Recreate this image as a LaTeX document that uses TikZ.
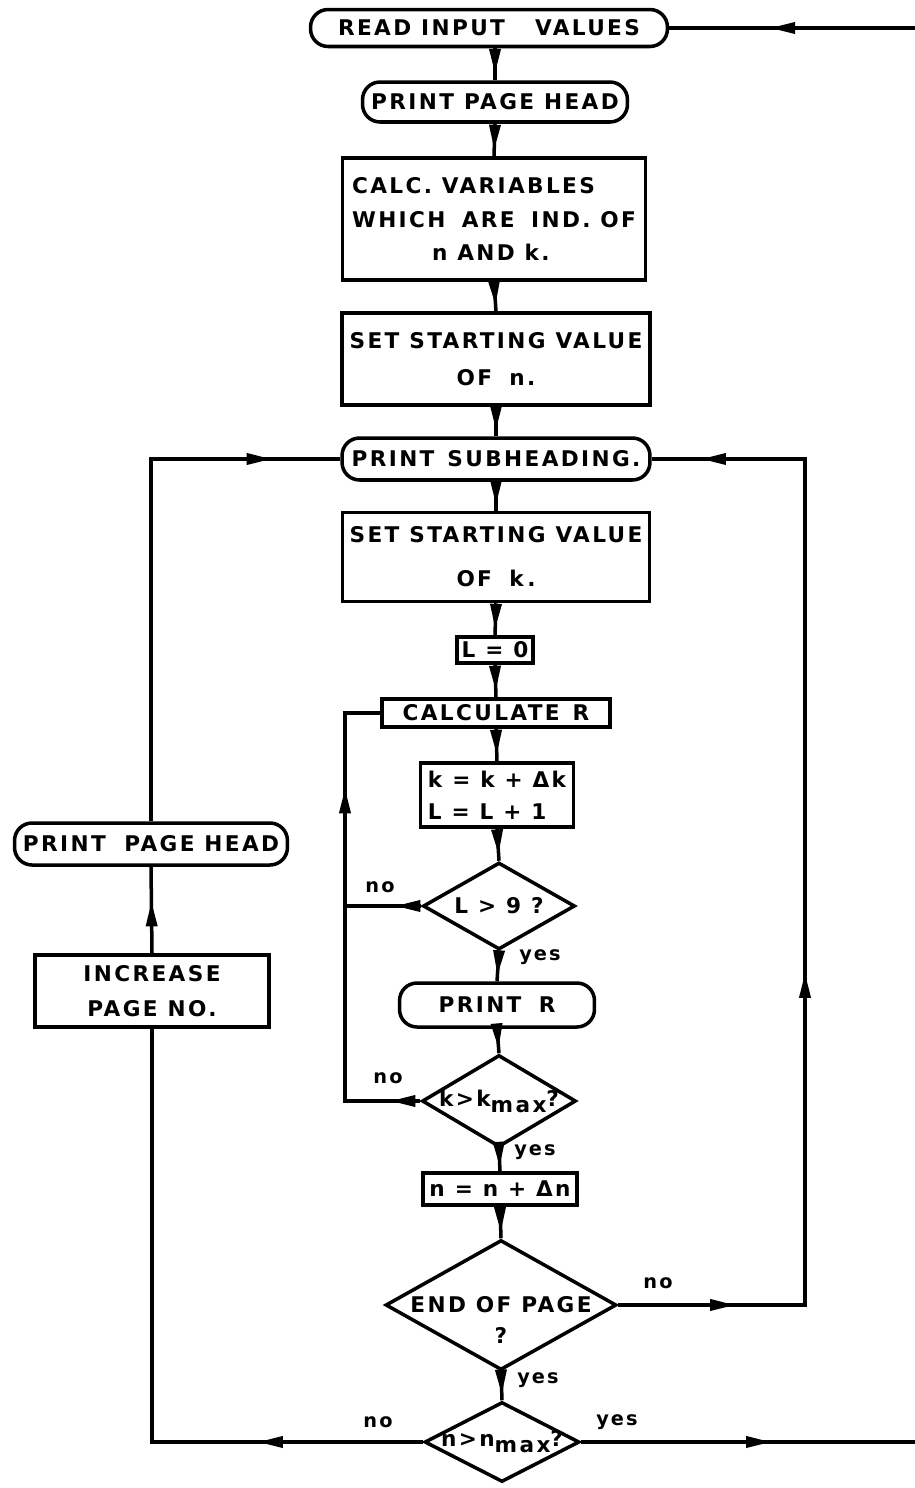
\documentclass[tikz,border=0pt]{standalone}
\usepackage{fontspec}
\newfontfamily\letterfont{DejaVu Sans}[LetterSpace=11]
\usetikzlibrary{arrows.meta,positioning,shapes.geometric,decorations.markings}
\tikzset{
  flowtip/.tip  = {Triangle[length=5mm,width=2.2mm]},
  lettering/.style = {font=\letterfont\bfseries\fontsize{12.3}{15}\selectfont},
  procbox/.style = {draw, line width=2pt, lettering, align=center, inner sep=2pt},
  termbox/.style = {procbox, rounded corners=10pt},
  testbox/.style = {draw, line width=2pt, diamond, inner sep=0pt},
  testtext/.style = {lettering, align=center},
  flowline/.style = {line width=2pt},
  tipat/.style  = {postaction={decorate, decoration={markings,
                   mark=at position #1 with {\arrow{flowtip}}}}},
  tag/.style    = {font=\letterfont\bfseries\fontsize{11}{13}\selectfont},
}
\begin{document}
\begin{tikzpicture}[x=0.02cm, y=-0.02cm]
  \useasboundingbox (0,0) rectangle (915,1488);
  % main column
  \node[termbox, minimum width=7.14cm, minimum height=0.74cm] (readin) at (489,28)
    {READ INPUT\hspace{1.4em}VALUES};
  \node[termbox, minimum width=5.3cm, minimum height=0.8cm] (phead) at (495,102)
    {PRINT PAGE HEAD};
  \node[procbox, minimum width=6.06cm, minimum height=2.44cm, align=left] (calc) at (494,219)
    {CALC. VARIABLES\\[4pt]WHICH\hspace{0.3em} ARE\hspace{0.3em} IND. OF\\[4pt]\hspace*{1.6cm}n AND k.};
  \node[procbox, minimum width=6.16cm, minimum height=1.84cm] (setn) at (496,359)
    {SET STARTING VALUE\\[6pt]OF\hspace{0.8em}n.};
  \node[termbox, minimum width=6.16cm, minimum height=0.84cm] (subhead) at (496,459)
    {PRINT\hspace{0.6em}SUBHEADING.};
  \node[procbox, minimum width=6.14cm, minimum height=1.78cm] (setk) at (496,557)
    {SET STARTING VALUE\\[10pt]OF\hspace{0.8em}k\,.};
  \node[procbox, minimum width=1.52cm, minimum height=0.52cm] (lzero) at (495,650)
    {L = 0};
  \node[procbox, minimum width=4.56cm, minimum height=0.56cm] (calcr) at (496,713)
    {CALCULATE\hspace{0.6em}R};
  \node[procbox, minimum width=3.06cm, minimum height=1.28cm, align=left] (kinc) at (497,795)
    {k = k + Δk\\[3pt]L = L + 1};
  \node[testbox, minimum width=3.04cm, minimum height=1.74cm,
        label={[testtext]center:{L > 9 ?}}] (ltest) at (499,906) {};
  \node[termbox, minimum width=3.9cm, minimum height=0.88cm] (printr) at (497,1005)
    {PRINT\hspace{0.8em}R};
  \node[testbox, minimum width=3.08cm, minimum height=1.84cm,
        label={[testtext]center:{k>k\raisebox{-0.5ex}{max}?}}] (ktest) at (499,1101) {};
  \node[procbox, minimum width=3.08cm, minimum height=0.64cm] (ninc) at (500,1189)
    {n = n + Δn};
  \node[testbox, minimum width=4.62cm, minimum height=2.6cm,
        label={[testtext, yshift=-0.3cm]center:{END OF PAGE\\[3pt]?}}] (eop) at (501,1305) {};
  \node[testbox, minimum width=3.1cm, minimum height=1.6cm,
        label={[testtext]center:{n>n\raisebox{-0.5ex}{max}?}}] (ntest) at (502,1442) {};
  % left column
  \node[termbox, minimum width=5.46cm, minimum height=0.84cm] (pheadleft) at (151,844)
    {PRINT\hspace{0.4em} PAGE HEAD};
  \node[procbox, minimum width=4.68cm, minimum height=1.44cm] (incpage) at (152,991)
    {INCREASE\\[5pt]PAGE NO.};
  % helper coordinates
  \coordinate (innerx) at (345,0);
  \coordinate (rightx) at (805,0);
  \coordinate (rimtop) at (915,28);
  \coordinate (rimbot) at (915,1442);
  % straight flow
  \draw[flowline, tipat=0.8] (readin.south -| phead.north) -- (phead.north);
  \draw[flowline, tipat=0.8] (phead.south) -- (calc.north);
  \draw[flowline, tipat=0.8] (calc.south) -- (setn.north);
  \draw[flowline, tipat=0.8] (setn.south) -- (subhead.north);
  \draw[flowline, tipat=0.8] (subhead.south) -- (setk.north);
  \draw[flowline, tipat=0.8] (setk.south) -- (lzero.north);
  \draw[flowline, tipat=0.8] (lzero.south) -- (calcr.north);
  \draw[flowline, tipat=0.8] (calcr.south) -- (kinc.north);
  \draw[flowline, tipat=0.8] (kinc.south) -- (ltest.north);
  \draw[flowline, tipat=0.8] (ltest.south) -- (printr.north);
  \draw[flowline, tipat=0.8] (printr.south) -- (ktest.north);
  \draw[flowline, tipat=0.8] (ktest.south) -- (ninc.north);
  \draw[flowline, tipat=0.8] (ninc.south) -- (eop.north);
  \draw[flowline, tipat=0.8] (eop.south) -- (ntest.north);
  % inner loop over k
  \draw[flowline, tipat=0.52cm] (ltest.west) -- (ltest.west -| innerx);
  \draw[flowline, tipat=0.6cm, tipat=7.76cm] (ktest.west) -- (ktest.west -| innerx) |- (calcr.west);
  % loop over n (same page)
  \draw[flowline, tipat=2.34cm, tipat=10.38cm, tipat=22.74cm]
    (eop.east) -- (eop.east -| rightx) |- (subhead.east);
  % new page
  \draw[flowline, tipat=3.3cm] (ntest.west) -- (ntest.west -| incpage.south) -- (incpage.south);
  \draw[flowline, tipat=0.6] (incpage.north) -- (pheadleft.south);
  \draw[flowline, tipat=9.66cm] (pheadleft.north) |- (subhead.west);
  % off the sheet
  \draw[flowline, tipat=2.9cm] (rimtop) -- (readin.east);
  \draw[flowline, tipat=3.8cm] (ntest.east) -- (rimbot);
  % branch tags
  \node[tag] (no1)  at (380,887)  {no};
  \node[tag] (yes1) at (540,957)  {yes};
  \node[tag] (no2)  at (388,1078) {no};
  \node[tag] (yes2) at (535,1152) {yes};
  \node[tag] (no3)  at (658,1283) {no};
  \node[tag] (yes3) at (538,1380) {yes};
  \node[tag] (no4)  at (378,1422) {no};
  \node[tag] (yes4) at (617,1422) {yes};
\end{tikzpicture}
\end{document}
